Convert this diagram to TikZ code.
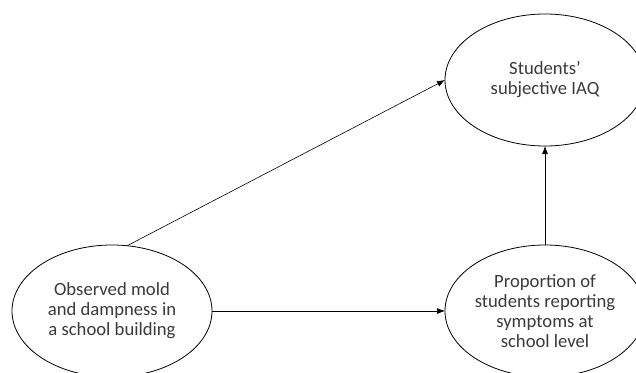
\documentclass[tikz,border=0pt]{standalone}
\usepackage{fontspec}
\setmainfont{Carlito}
\usetikzlibrary{shapes.geometric,arrows.meta}
\definecolor{txt}{HTML}{3A3A3A}
\begin{document}
\begin{tikzpicture}[x=0.75pt,y=-0.75pt,
  oval/.style={ellipse,draw,line width=0.6pt,inner sep=0pt,outer sep=0pt,
    minimum width=150pt,minimum height=99pt,align=center,text=txt,
    font=\fontsize{14}{15}\selectfont},
  link/.style={line width=0.45pt,-{Latex[length=6pt,width=4.5pt]}}]
\useasboundingbox (0,0) rectangle (636,372);
\clip (0,0) rectangle (636,372);
\node[oval] (mold) at (112,311) {Observed mold\\and dampness in\\a school building};
\node[oval] (iaq) at (545,80) {Students’\\subjective IAQ};
\node[oval] (prop) at (545,311) {Proportion of\\students reporting\\symptoms at\\school level};
\draw[link] (mold.77) -- (iaq.west);
\draw[link] (mold.east) -- (prop.west);
\draw[link] (prop.north) -- (iaq.south);
\end{tikzpicture}
\end{document}
